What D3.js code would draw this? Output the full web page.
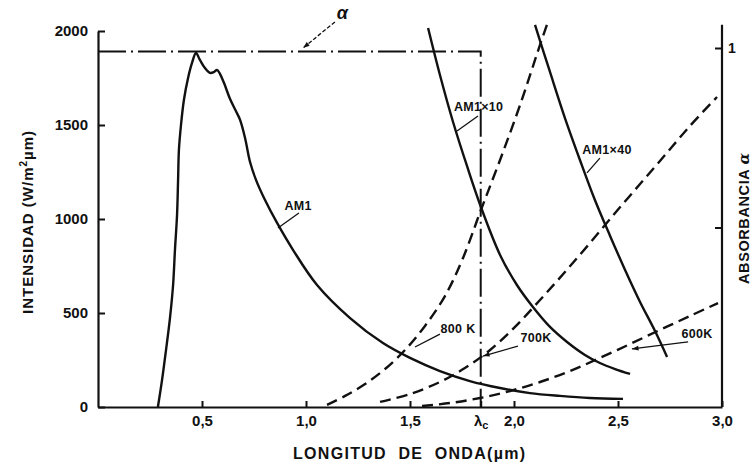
<!DOCTYPE html>
<html><head><meta charset="utf-8">
<script src="https://cdn.jsdelivr.net/npm/d3@7"></script>
<style>
html,body{margin:0;padding:0;background:#fff;}
text{font-family:"Liberation Sans","DejaVu Sans",sans-serif;fill:#111;}
</style></head>
<body><svg id="c" width="755" height="466"></svg>
<script>
// ---- data ----
const lambdaC = 1.84;
const xTicks = [0.5, 1.0, 1.5, lambdaC, 2.0, 2.5, 3.0];
const yTicks = [0, 500, 1000, 1500, 2000];
const alphaTicks = [0.5, 1];
const alphaLevel = 0.99;

const am1X  = [0.288,0.308,0.327,0.346,0.361,0.370,0.380,0.385,0.389,0.399,0.413,0.433,0.452,0.471,0.490,0.514,0.538,0.558,0.572,0.587,0.606,0.635,0.663,0.683,0.707,0.731,0.760,0.803,0.861,0.938,1.053,1.212,1.370,1.500,1.644,1.788,1.933,2.077,2.221,2.365,2.524];
const am1Y  = [0,144,303,473,649,835,1021,1207,1367,1500,1633,1750,1830,1883,1846,1803,1777,1782,1793,1771,1723,1638,1574,1527,1431,1303,1207,1101,979,835,649,473,340,261,191,138,101,74,59,48,43];
const am10X = [1.587,1.644,1.707,1.774,1.841,1.933,2.014,2.091,2.173,2.255,2.341,2.413,2.486,2.558];
const am10Y = [2016,1766,1516,1282,1064,809,649,532,426,346,277,234,202,176];
const am40X = [2.101,2.173,2.245,2.317,2.389,2.462,2.534,2.606,2.678,2.736];
const am40Y = [2032,1782,1537,1314,1101,910,729,559,404,266];
const k800X = [1.101,1.188,1.284,1.380,1.476,1.572,1.668,1.755,1.841,1.933,2.029,2.125,2.163];
const k800Y = [11,59,122,202,303,431,590,793,1048,1314,1606,1926,2048];
const k700X = [1.356,1.500,1.644,1.764,1.885,2.005,2.125,2.245,2.365,2.486,2.606,2.726,2.846,2.976];
const k700Y = [27,69,133,207,303,426,569,718,872,1032,1186,1340,1495,1649];
const k600X = [1.558,1.692,1.837,1.981,2.125,2.269,2.413,2.558,2.702,2.846,2.981];
const k600Y = [5,21,48,85,133,191,261,335,410,484,553];

// annotation labels (text, text anchor point, leader from -> to, in data units)
const labels = [
  {t:"AM1",    tx:0.962, ty:1048, x1:0.966, y1:1032, x2:0.865, y2:952,  arrow:false},
  {t:"AM1×10", tx:1.83,  ty:1574, x1:1.827, y1:1548, x2:1.726, y2:1468, arrow:false},
  {t:"AM1×40", tx:2.447, ty:1346, x1:2.413, y1:1324, x2:2.351, y2:1245, arrow:false},
  {t:"800 K",  tx:1.731, ty:394,  x1:1.644, y1:388,  x2:1.524, y2:319,  arrow:false},
  {t:"700K",   tx:2.106, ty:346,  x1:2.019, y1:324,  x2:1.851, y2:271,  arrow:true},
  {t:"600K",   tx:2.88,  ty:367,  x1:2.837, y1:346,  x2:2.567, y2:309,  arrow:true}
];

// ---- drawing ----
const svg = d3.select("#c");
const x = d3.scaleLinear().domain([0,3]).range([98,722]);
const y = d3.scaleLinear().domain([0,2000]).range([407,31]);
const ya = d3.scaleLinear().domain([0,1]).range([407,48]);
const fmt = d => d3.format(".1f")(d).replace(".", ",");

// left axis
const gl = svg.append("g").attr("transform",`translate(${x(0)},0)`)
  .call(d3.axisLeft(y).tickValues(yTicks).tickSize(-7).tickSizeOuter(0).tickPadding(10).tickFormat(d3.format("d")));
gl.select(".domain").attr("stroke","#111").attr("stroke-width",2.2);
gl.selectAll(".tick line").attr("stroke","#111").attr("stroke-width",2);
gl.selectAll(".tick text").attr("font-size",15).attr("font-weight","bold").attr("fill","#222").attr("x",-10);

// bottom axis
const gb = svg.append("g").attr("transform",`translate(0,${y(0)})`)
  .call(d3.axisBottom(x).tickValues(xTicks).tickSize(-6).tickSizeOuter(0).tickPadding(8).tickFormat(d => d===lambdaC ? "λ" : fmt(d)));
gb.select(".domain").attr("stroke","#111").attr("stroke-width",2.2);
gb.selectAll(".tick line").attr("stroke","#111").attr("stroke-width",2);
gb.selectAll(".tick text").attr("font-size",15).attr("font-weight","bold").attr("fill","#222").attr("y",8).attr("dy","0.71em");
gb.selectAll(".tick text").filter(d => d===lambdaC).append("tspan").attr("font-size",11).attr("dy",3).text("c");

// right axis
const gr = svg.append("g").attr("transform",`translate(${x(3)},0)`)
  .call(d3.axisRight(ya).tickValues(alphaTicks).tickSize(-7).tickSizeOuter(0).tickPadding(7).tickFormat(d => d===1 ? "1" : ""));
gr.select(".domain").remove();
gr.selectAll(".tick line").attr("stroke","#111").attr("stroke-width",2);
gr.selectAll(".tick text").attr("font-size",14).attr("font-weight","bold").attr("fill","#222").attr("x",6);
svg.append("line").attr("x1",x(3)).attr("x2",x(3)).attr("y1",ya(0)).attr("y2",ya(1.065))
  .attr("stroke","#111").attr("stroke-width",2.2);

// absorbance step (dash-dot)
const alphaPts = [[0,alphaLevel],[lambdaC,alphaLevel],[lambdaC,0]];
svg.append("path").attr("d", d3.line().x(d=>x(d[0])).y(d=>ya(d[1]))(alphaPts))
  .attr("fill","none").attr("stroke","#111").attr("stroke-width",2).attr("stroke-dasharray","28,5,2,5");

// curves
function curve(xs, ys, dashed){
  const pts = xs.map((v,i)=>[v, ys[i]]);
  svg.append("path").attr("d", d3.line().x(d=>x(d[0])).y(d=>y(d[1])).curve(d3.curveCatmullRom.alpha(0.5))(pts))
    .attr("fill","none").attr("stroke","#111").attr("stroke-width",2.4)
    .attr("stroke-dasharray", dashed ? "11,6" : null).attr("stroke-linejoin","round");
}
curve(am1X, am1Y, false);
curve(am10X, am10Y, false);
curve(am40X, am40Y, false);
curve(k800X, k800Y, true);
curve(k700X, k700Y, true);
curve(k600X, k600Y, true);

// labels with leaders
function arrowHead(px1,py1,px2,py2){
  const a = Math.atan2(py2-py1, px2-px1), L=7, w=0.35;
  const p = [[px2,py2],[px2-L*Math.cos(a-w), py2-L*Math.sin(a-w)],[px2-L*Math.cos(a+w), py2-L*Math.sin(a+w)]];
  svg.append("path").attr("d","M"+p.map(q=>q.join(",")).join("L")+"Z").attr("fill","#111");
}
labels.forEach(l=>{
  svg.append("line").attr("x1",x(l.x1)).attr("y1",y(l.y1)).attr("x2",x(l.x2)).attr("y2",y(l.y2))
    .attr("stroke","#111").attr("stroke-width",1.3);
  if(l.arrow) arrowHead(x(l.x1),y(l.y1),x(l.x2),y(l.y2));
  svg.append("text").attr("x",x(l.tx)).attr("y",y(l.ty)).attr("text-anchor","middle")
    .attr("font-size",12.5).attr("font-weight","bold").attr("letter-spacing",0.3).text(l.t);
});
// alpha label
svg.append("line").attr("x1",x(1.139)).attr("y1",y(2048)).attr("x2",x(0.986)).attr("y2",y(1910))
  .attr("stroke","#111").attr("stroke-width",1.3).attr("stroke-dasharray","4,2");
arrowHead(x(1.139),y(2048),x(0.986),y(1910));
svg.append("text").attr("x",x(1.175)).attr("y",y(2062)).attr("text-anchor","middle")
  .attr("font-size",18).attr("font-style","italic").attr("font-weight","bold").attr("font-family","DejaVu Serif, serif").text("α");

// axis titles
svg.append("text").attr("transform","translate(33,222) rotate(-90)").attr("text-anchor","middle")
  .attr("font-size",15).attr("font-weight","bold").attr("letter-spacing",1)
  .html('INTENSIDAD  (W/m<tspan dy="-6" font-size="10">2</tspan><tspan dy="6">µm)</tspan>');
svg.append("text").attr("x",293).attr("y",459).attr("text-anchor","start")
  .attr("font-size",16).attr("font-weight","bold").attr("letter-spacing",1.3)
  .attr("xml:space","preserve").text("LONGITUD  DE  ONDA(µm)");
svg.append("text").attr("transform","translate(749,284) rotate(-90)").attr("text-anchor","start")
  .attr("font-size",14.5).attr("font-weight","bold").attr("letter-spacing",0.6)
  .html('ABSORBANCIA <tspan font-family="DejaVu Serif, serif" font-style="italic" font-size="15">α</tspan>');
</script></body></html>
